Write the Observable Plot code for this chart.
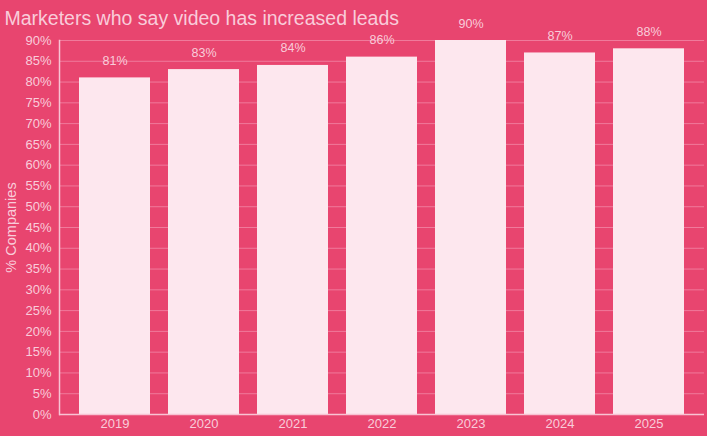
<!DOCTYPE html>
<html>
<head>
<meta charset="utf-8">
<script src="https://cdn.jsdelivr.net/npm/d3@7"></script>
<script src="https://cdn.jsdelivr.net/npm/@observablehq/plot@0.6"></script>
<style>
  html, body { margin: 0; padding: 0; background: #E8456F; }
  #chart svg { display: block; }
</style>
</head>
<body>
<div id="chart"></div>
<script>
const years = ["2019", "2020", "2021", "2022", "2023", "2024", "2025"];
const values = [81, 83, 84, 86, 90, 87, 88];
const yTicks = d3.range(0, 91, 5);
const title = "Marketers who say video has increased leads";
const yLabel = "% Companies";

const data = years.map((y, i) => ({year: y, value: values[i]}));

const bg = "#E8456F";
const barColor = "#FDE7EE";
const textColor = "#F9CCDA";
const gridColor = "#F07A9B";
const axisColor = "#F8C3D3";

const chart = Plot.plot({
  width: 707,
  height: 436,
  marginTop: 40,
  marginBottom: 22,
  marginLeft: 59,
  marginRight: 3,
  style: {background: bg, fontFamily: "Liberation Sans, Arial, sans-serif", fontSize: "13px", color: textColor},
  x: {domain: years, inset: 10, paddingInner: 0.2, paddingOuter: 0.1, label: null},
  y: {domain: [0, 90], label: null},
  marks: [
    Plot.ruleY(yTicks, {stroke: gridColor, strokeWidth: 1}),
    Plot.barY(data, {x: "year", y: "value", fill: barColor}),
    Plot.text(data, {x: "year", y: "value", text: d => d.value + "%", dy: -17, fill: textColor, fontSize: 12.5}),
    Plot.axisY({ticks: yTicks, tickFormat: d => d + "%", tickSize: 0, tickPadding: 8, fill: textColor, fontSize: 13,
      label: null}),
    Plot.text([yLabel], {frameAnchor: "left", dx: -48, rotate: -90, fill: textColor, fontSize: 14.5, textAnchor: "middle"}),
    Plot.axisX({tickSize: 0, tickPadding: 4, fill: textColor, fontSize: 13, label: null}),
    Plot.frame({anchor: "left", stroke: axisColor, strokeWidth: 1.5}),
    Plot.ruleY([0], {stroke: axisColor, strokeWidth: 1.5}),
    Plot.text([title], {frameAnchor: "top-left", dx: -55, dy: -29, fill: textColor, fontSize: 19.5, textAnchor: "start"})
  ]
});
document.getElementById("chart").appendChild(chart);
</script>
</body>
</html>
